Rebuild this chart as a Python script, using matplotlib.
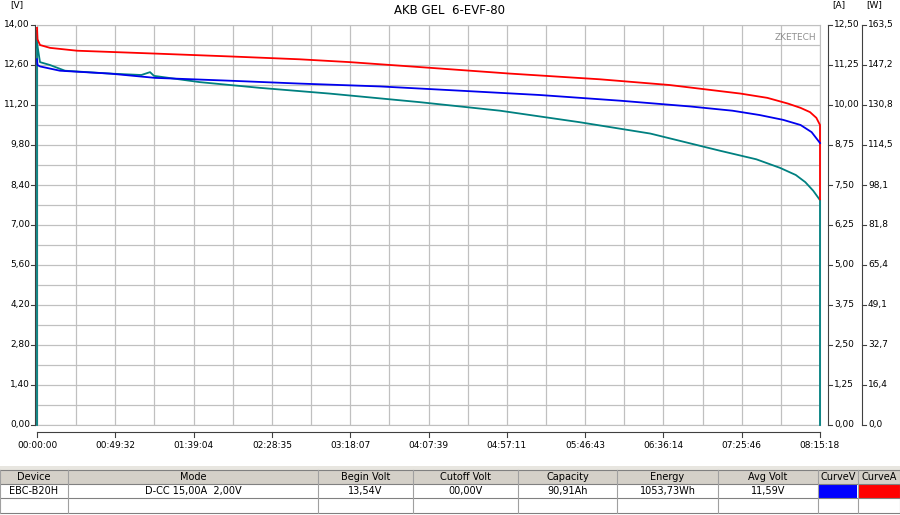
import matplotlib
matplotlib.use('Agg')
import matplotlib.pyplot as plt
from matplotlib.patches import Rectangle

# time in minutes, values in left-axis volts
t_red = [0, 0.3, 1.9, 8.2, 25.3, 74.6, 122, 166, 198, 249, 299, 356, 400, 445, 462, 475, 483, 489, 493, 495.3, 495.3]
v_red = [13.9, 13.5, 13.3, 13.2, 13.1, 13.0, 12.9, 12.8, 12.7, 12.5, 12.3, 12.1, 11.9, 11.6, 11.45, 11.25, 11.1, 10.95, 10.75, 10.5, 7.9]
t_blue = [0, 0.3, 1.9, 14.5, 46, 74.6, 122, 166, 217, 268, 318, 369, 413, 440, 457, 472, 483, 490, 495.3]
v_blue = [12.8, 12.6, 12.55, 12.4, 12.3, 12.15, 12.05, 11.95, 11.85, 11.7, 11.55, 11.35, 11.15, 11.0, 10.85, 10.68, 10.5, 10.25, 9.87]
t_teal = [0, 0, 0.2, 1.9, 8.2, 17.7, 46, 66, 71.5, 74, 103, 141, 185, 242, 293, 343, 388, 432, 455, 470, 480, 486, 491, 495.3, 495.3]
v_teal = [0, 13.8, 13.3, 12.7, 12.6, 12.4, 12.3, 12.25, 12.35, 12.22, 12.0, 11.8, 11.6, 11.3, 11.0, 10.6, 10.2, 9.6, 9.3, 9.0, 8.75, 8.5, 8.2, 7.87, 0]

time_labels = ['00:00:00', '00:49:32', '01:39:04', '02:28:35', '03:18:07', '04:07:39',
               '04:57:11', '05:46:43', '06:36:14', '07:25:46', '08:15:18']
v_labels = ['0,00', '1,40', '2,80', '4,20', '5,60', '7,00', '8,40', '9,80', '11,20', '12,60', '14,00']
a_labels = ['0,00', '1,25', '2,50', '3,75', '5,00', '6,25', '7,50', '8,75', '10,00', '11,25', '12,50']
w_labels = ['0,0', '16,4', '32,7', '49,1', '65,4', '81,8', '98,1', '114,5', '130,8', '147,2', '163,5']

headers = ['Device', 'Mode', 'Begin Volt', 'Cutoff Volt', 'Capacity', 'Energy', 'Avg Volt', 'CurveV', 'CurveA']
row = ['EBC-B20H', 'D-CC 15,00A  2,00V', '13,54V', '00,00V', '90,91Ah', '1053,73Wh', '11,59V', '', '']
col_x = [0, 68, 318, 413, 518, 617, 718, 818, 858, 900]

T = 495.3
fig = plt.figure(figsize=(9, 5.15), dpi=100)
ax = fig.add_axes([37/900, 90/515, 783/900, 400/515])
fs = 6.5
grid_c = '#c0c0c0'

ax.plot(t_red, v_red, color='#ff0000', lw=1.3, clip_on=False, zorder=4)
ax.plot(t_blue, v_blue, color='#0000ee', lw=1.3, clip_on=False, zorder=4)
ax.plot(t_teal, v_teal, color='#008080', lw=1.3, clip_on=False, zorder=3)
ax.set_xlim(0, T)
ax.set_ylim(0, 14)
ax.set_xticks([T * i / 20 for i in range(21)])
ax.set_yticks([14 * i / 20 for i in range(21)])
ax.grid(True, color=grid_c, lw=0.9)
ax.tick_params(length=0, labelbottom=False, labelleft=False)
for s in ax.spines.values():
    s.set_color(grid_c)

# left labels
for i, lab in enumerate(v_labels):
    y = 425 - i * 40
    fig.text(30/900, 1 - y/515, lab, ha='right', va='center', fontsize=fs)
    fig.add_artist(plt.Line2D([31/900, 35/900], [1 - y/515] * 2, color='#404040', lw=0.8))
fig.add_artist(plt.Line2D([35/900, 35/900], [1 - 25/515, 1 - 425/515], color='#404040', lw=0.8))
fig.text(10/900, 1 - 5/515, '[V]', fontsize=fs, va='center')

# bottom time axis
fig.add_artist(plt.Line2D([37/900, 820/900], [1 - 432/515] * 2, color='#404040', lw=0.8))
for i, lab in enumerate(time_labels):
    x = 37 + i * 78.3
    fig.add_artist(plt.Line2D([x/900] * 2, [1 - 432/515, 1 - 437/515], color='#404040', lw=0.8))
    fig.text(x/900, 1 - 445/515, lab, ha='center', va='center', fontsize=fs)

# right axes
for sx, labs, unit in [(828, a_labels, '[A]'), (862, w_labels, '[W]')]:
    fig.add_artist(plt.Line2D([sx/900] * 2, [1 - 25/515, 1 - 425/515], color='#404040', lw=0.8))
    for i, lab in enumerate(labs):
        y = 425 - i * 40
        fig.add_artist(plt.Line2D([sx/900, (sx + 4)/900], [1 - y/515] * 2, color='#404040', lw=0.8))
        fig.text((sx + 6)/900, 1 - y/515, lab, ha='left', va='center', fontsize=fs)
    fig.text((sx + 4)/900, 1 - 5/515, unit, fontsize=fs, va='center')

fig.text(450/900, 1 - 10/515, 'AKB GEL  6-EVF-80', ha='center', va='center', fontsize=8.5)
ax.text(0.995, 0.97, 'ZKETECH', transform=ax.transAxes, ha='right', va='center',
        fontsize=6.5, color='#909090')

# bottom table
fig.add_artist(Rectangle((0, 1 - 470/515), 1, 4/515, transform=fig.transFigure,
                         facecolor='#e8e6e0', edgecolor='none'))
fig.add_artist(Rectangle((0, 1 - 484/515), 1, 14/515, transform=fig.transFigure,
                         facecolor='#d4d0c8', edgecolor='none'))
for y in [470, 484, 498, 513]:
    fig.add_artist(plt.Line2D([0, 1], [1 - y/515] * 2, color='#808080', lw=0.8))
for x in col_x:
    fig.add_artist(plt.Line2D([x/900] * 2, [1 - 470/515, 1 - 513/515], color='#a0a0a0', lw=0.8))
for j in range(len(headers)):
    cx = (col_x[j] + col_x[j + 1]) / 2 / 900
    fig.text(cx, 1 - 477/515, headers[j], ha='center', va='center', fontsize=fs + 0.5)
    fig.text(cx, 1 - 491/515, row[j], ha='center', va='center', fontsize=fs + 0.5)
fig.add_artist(Rectangle((819/900, 1 - 498/515), 38/900, 13/515, transform=fig.transFigure,
                         facecolor='#0000ff', edgecolor='none'))
fig.add_artist(Rectangle((859/900, 1 - 498/515), 41/900, 13/515, transform=fig.transFigure,
                         facecolor='#ff0000', edgecolor='none'))

fig.savefig('out.png', dpi=100, facecolor='white')
